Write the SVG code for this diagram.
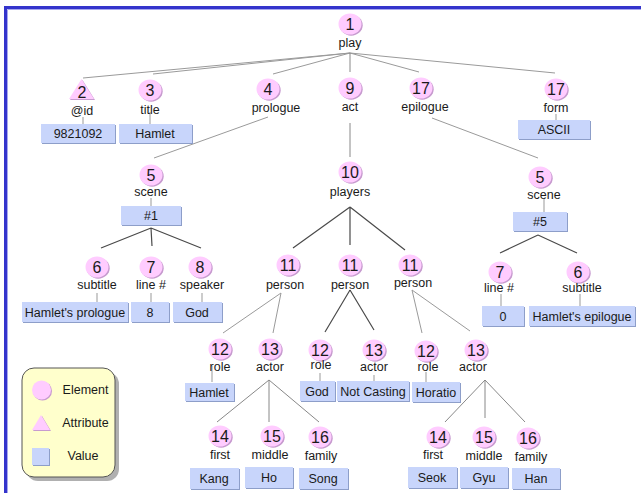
<svg xmlns="http://www.w3.org/2000/svg" width="641" height="493" viewBox="0 0 641 493">
<style>
text{font-family:"Liberation Sans",Arial,sans-serif;fill:#1a1a1a;text-anchor:middle}
.l{font-size:12.5px}
.n{font-size:16px}
.v{font-size:12.5px}
.es{fill:#c79bcf}
.e{fill:#ffccff}
.bs{fill:#8d9ec9}
.b{fill:#c8d5fb}
.thin{stroke:#9a9a9a;stroke-width:1;fill:none}
.dark{stroke:#4a4a4a;stroke-width:1.2;fill:none}
.mid{stroke:#888;stroke-width:1;fill:none}
.tk{stroke:#999;stroke-width:1;fill:none}
</style>
<defs>
<g id="el"><ellipse class="es" cx="1.2" cy="1.2" rx="11.5" ry="10.5"/><ellipse class="e" cx="0" cy="0" rx="11.5" ry="10.5"/></g>
</defs>
<rect x="0" y="0" width="641" height="493" fill="#fff"/>
<path d="M5.5 493 V7.5 H641" fill="none" stroke="#3434cc" stroke-width="3"/>
<path d="M7.5 493 V9.5 H641" fill="none" stroke="#a8a8ee" stroke-width="1"/>

<g id="connectors">
<path class="thin" d="M350 53 L83 78 M350 53 L153 74 M350 53 L273 74 M350 53 L419 72 M350 53 L555 73"/>
<path class="mid" d="M350 53 L350 72"/>
<path class="thin" d="M268 117 L154 158 M432 118 L538 158"/>
<path class="mid" d="M350 123 L350 157"/>
<path class="dark" d="M151 228 L101 248 M151 228 L152 246 M151 228 L201 248"/>
<path class="dark" d="M350 207 L293 248 M350 207 L350 245 M350 207 L405 250"/>
<path class="dark" d="M538 235 L500 253 M538 235 L577 253"/>
<path class="thin" d="M281 293 L223 333 M281 293 L273 333"/>
<path class="dark" d="M350 290 L325 332 M350 290 L374 330"/>
<path class="thin" d="M412 290 L422 333 M412 290 L470 331"/>
<path class="mid" d="M269 380 L217 422 M269 380 L269 422 M269 380 L319 422"/>
<path class="mid" d="M485 380 L445 422 M485 380 L485 418 M485 380 L525 422"/>
<path class="tk" d="M83 117 V124 M150 112 V124 M556 114 V120 M151 198 V206 M97 293 V302 M151 293 V302 M202 293 V302 M544 199 V212 M501 294 V306 M580 294 V306 M212 366 V382 M320 373 V381 M374 375 V381 M426 372 V382"/>
</g>

<g id="n1"><use href="#el" x="350" y="24"/><text class="n" x="350" y="29.5">1</text><text class="l" x="350" y="47">play</text></g>

<g id="n2"><polygon points="82.5,80 70,100 95,100" fill="#c79bcf"/><polygon points="81.5,79 69,99 94,99" fill="#ffccff"/><text class="n" x="82" y="98">2</text><text class="l" x="82" y="115">@id</text>
<rect class="bs" x="42" y="125" width="74" height="19"/><rect class="b" x="41" y="124" width="74" height="19"/><text class="v" x="78" y="138">9821092</text></g>

<g id="n3"><use href="#el" x="150" y="90"/><text class="n" x="150" y="95.5">3</text><text class="l" x="150" y="114">title</text>
<rect class="bs" x="120" y="125" width="73" height="19"/><rect class="b" x="119" y="124" width="73" height="19"/><text class="v" x="155" y="138">Hamlet</text></g>

<g id="n4"><use href="#el" x="268" y="89"/><text class="n" x="268" y="94.5">4</text><text class="l" x="276" y="112">prologue</text></g>

<g id="n9"><use href="#el" x="350" y="88"/><text class="n" x="350" y="93.5">9</text><text class="l" x="350" y="111">act</text></g>

<g id="n17a"><use href="#el" x="421" y="88"/><text class="n" x="421" y="93.5">17</text><text class="l" x="425" y="111">epilogue</text></g>

<g id="n17b"><use href="#el" x="556" y="89"/><text class="n" x="556" y="94.5">17</text><text class="l" x="556" y="112">form</text>
<rect class="bs" x="519" y="121" width="72" height="19"/><rect class="b" x="518" y="120" width="72" height="19"/><text class="v" x="554" y="134">ASCII</text></g>

<g id="n5a"><use href="#el" x="151" y="175"/><text class="n" x="151" y="180.5">5</text><text class="l" x="151" y="196">scene</text>
<rect class="bs" x="122" y="207" width="60" height="19"/><rect class="b" x="121" y="206" width="60" height="19"/><text class="v" x="151" y="220">#1</text></g>

<g id="n6a"><use href="#el" x="97" y="267"/><text class="n" x="97" y="272.5">6</text><text class="l" x="97" y="289">subtitle</text>
<rect class="bs" x="23" y="303" width="106" height="20"/><rect class="b" x="22" y="302" width="106" height="20"/><text class="v" x="75" y="317">Hamlet's prologue</text></g>

<g id="n7a"><use href="#el" x="151" y="267"/><text class="n" x="151" y="272.5">7</text><text class="l" x="151" y="289">line #</text>
<rect class="bs" x="132" y="303" width="38" height="20"/><rect class="b" x="131" y="302" width="38" height="20"/><text class="v" x="150" y="317">8</text></g>

<g id="n8"><use href="#el" x="200" y="267"/><text class="n" x="200" y="272.5">8</text><text class="l" x="202" y="289">speaker</text>
<rect class="bs" x="174" y="303" width="49" height="20"/><rect class="b" x="173" y="302" width="49" height="20"/><text class="v" x="197" y="317">God</text></g>

<g id="n10"><use href="#el" x="350" y="172"/><text class="n" x="350" y="177.5">10</text><text class="l" x="350" y="196">players</text></g>

<g id="n5b"><use href="#el" x="540" y="177"/><text class="n" x="540" y="182.5">5</text><text class="l" x="544" y="199">scene</text>
<rect class="bs" x="514" y="213" width="54" height="19"/><rect class="b" x="513" y="212" width="54" height="19"/><text class="v" x="540" y="226">#5</text></g>

<g id="n7b"><use href="#el" x="500" y="272"/><text class="n" x="500" y="277.5">7</text><text class="l" x="499" y="292">line #</text>
<rect class="bs" x="483" y="307" width="42" height="20"/><rect class="b" x="482" y="306" width="42" height="20"/><text class="v" x="503" y="321">0</text></g>

<g id="n6b"><use href="#el" x="578" y="272"/><text class="n" x="578" y="277.5">6</text><text class="l" x="582" y="292">subtitle</text>
<rect class="bs" x="530" y="307" width="106" height="20"/><rect class="b" x="529" y="306" width="106" height="20"/><text class="v" x="582" y="321">Hamlet's epilogue</text></g>

<g id="n11a"><use href="#el" x="288" y="265"/><text class="n" x="288" y="270.5">11</text><text class="l" x="285" y="289">person</text></g>
<g id="n11b"><use href="#el" x="350" y="265"/><text class="n" x="350" y="270.5">11</text><text class="l" x="350" y="289">person</text></g>
<g id="n11c"><use href="#el" x="410" y="265"/><text class="n" x="410" y="270.5">11</text><text class="l" x="413" y="287">person</text></g>

<g id="n12a"><use href="#el" x="220" y="349"/><text class="n" x="220" y="354.5">12</text><text class="l" x="220" y="371">role</text>
<rect class="bs" x="186" y="384" width="49" height="18"/><rect class="b" x="185" y="383" width="49" height="18"/><text class="v" x="209" y="397">Hamlet</text></g>

<g id="n13a"><use href="#el" x="270" y="349"/><text class="n" x="270" y="354.5">13</text><text class="l" x="270" y="371">actor</text></g>

<g id="n12b"><use href="#el" x="320" y="350"/><text class="n" x="320" y="355.5">12</text><text class="l" x="321" y="369">role</text>
<rect class="bs" x="301" y="382" width="35" height="20"/><rect class="b" x="300" y="381" width="35" height="20"/><text class="v" x="317" y="396">God</text></g>

<g id="n13b"><use href="#el" x="374" y="350"/><text class="n" x="374" y="355.5">13</text><text class="l" x="374" y="371">actor</text>
<rect class="bs" x="338" y="382" width="72" height="20"/><rect class="b" x="337" y="381" width="72" height="20"/><text class="v" x="373" y="396">Not Casting</text></g>

<g id="n12c"><use href="#el" x="426" y="351"/><text class="n" x="426" y="356.5">12</text><text class="l" x="428" y="371">role</text>
<rect class="bs" x="413" y="383" width="48" height="20"/><rect class="b" x="412" y="382" width="48" height="20"/><text class="v" x="436" y="397">Horatio</text></g>

<g id="n13c"><use href="#el" x="476" y="350"/><text class="n" x="476" y="355.5">13</text><text class="l" x="473" y="371">actor</text></g>

<g id="n14a"><use href="#el" x="220" y="436"/><text class="n" x="220" y="441.5">14</text><text class="l" x="220" y="459">first</text>
<rect class="bs" x="191" y="469" width="49" height="21"/><rect class="b" x="190" y="468" width="49" height="21"/><text class="v" x="214" y="483">Kang</text></g>

<g id="n15a"><use href="#el" x="272" y="436"/><text class="n" x="272" y="441.5">15</text><text class="l" x="270" y="459">middle</text>
<rect class="bs" x="246" y="468" width="48" height="21"/><rect class="b" x="245" y="467" width="48" height="21"/><text class="v" x="269" y="482">Ho</text></g>

<g id="n16a"><use href="#el" x="320" y="437"/><text class="n" x="320" y="442.5">16</text><text class="l" x="321" y="460">family</text>
<rect class="bs" x="300" y="469" width="49" height="21"/><rect class="b" x="299" y="468" width="49" height="21"/><text class="v" x="323" y="483">Song</text></g>

<g id="n14b"><use href="#el" x="438" y="437"/><text class="n" x="438" y="442.5">14</text><text class="l" x="433" y="459">first</text>
<rect class="bs" x="409" y="468" width="49" height="21"/><rect class="b" x="408" y="467" width="49" height="21"/><text class="v" x="432" y="482">Seok</text></g>

<g id="n15b"><use href="#el" x="484" y="437"/><text class="n" x="484" y="442.5">15</text><text class="l" x="484" y="460">middle</text>
<rect class="bs" x="461" y="468" width="48" height="21"/><rect class="b" x="460" y="467" width="48" height="21"/><text class="v" x="484" y="482">Gyu</text></g>

<g id="n16b"><use href="#el" x="528" y="438"/><text class="n" x="528" y="443.5">16</text><text class="l" x="531" y="461">family</text>
<rect class="bs" x="513" y="469" width="48" height="21"/><rect class="b" x="512" y="468" width="48" height="21"/><text class="v" x="536" y="483">Han</text></g>

<g id="legend">
<rect x="26" y="372" width="93" height="109" rx="12" fill="#b0b0b0"/>
<rect x="22" y="368" width="93" height="109" rx="12" fill="#ffffcc" stroke="#555" stroke-width="1"/>
<circle cx="42.5" cy="391" r="9.5" fill="#c79bcf"/><circle cx="41.5" cy="390" r="9.5" fill="#ffccff"/>
<text class="l" x="85.5" y="394">Element</text>
<polygon points="42,416 33,431 51,431" fill="#c79bcf"/><polygon points="41,415 32,430 50,430" fill="#ffccff"/>
<text class="l" x="85.5" y="427">Attribute</text>
<rect x="33" y="449" width="17" height="17" fill="#8d9ec9"/><rect x="32" y="448" width="17" height="17" fill="#c8d5fb"/>
<text class="l" x="83" y="460">Value</text>
</g>
</svg>
